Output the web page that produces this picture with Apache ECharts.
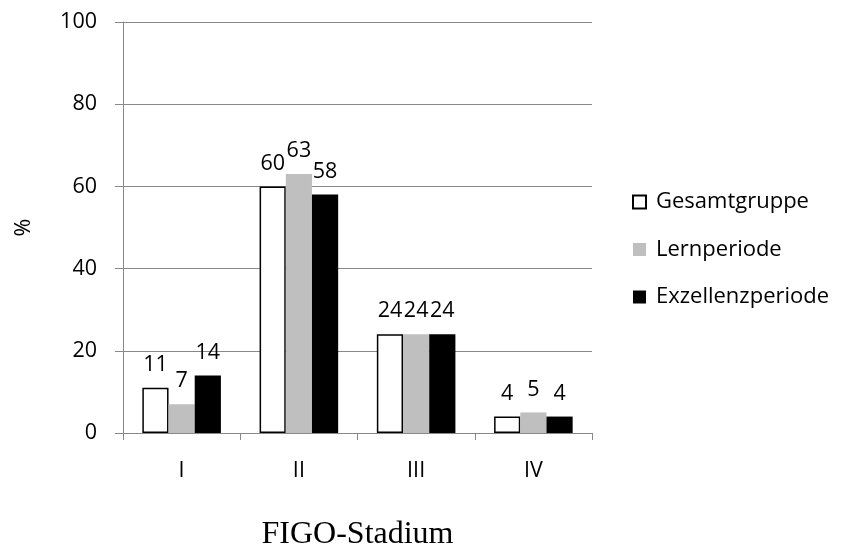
<!DOCTYPE html>
<html><head><meta charset="utf-8">
<script src="https://cdn.jsdelivr.net/npm/echarts@6/dist/echarts.min.js"></script>
<style>html,body{margin:0;padding:0;background:#fff}#c{width:842px;height:548px}</style>
</head><body><div id="c"></div>
<script>
var categories = ['I', 'II', 'III', 'IV'];
var gesamtgruppe = [11, 60, 24, 4];
var lernperiode = [7, 63, 24, 5];
var exzellenzperiode = [14, 58, 24, 4];
var yTicks = [0, 20, 40, 60, 80, 100];

var FONT = '"Open Sans", sans-serif';
var labelStyle = {show: true, position: 'top', distance: 12, fontSize: 21.5, color: '#000', fontFamily: FONT};

var chart = echarts.init(document.getElementById('c'));
chart.setOption({
  animation: false,
  backgroundColor: '#fff',
  grid: {left: 123, right: 250, top: 22, bottom: 115, outerBoundsMode: 'none', containLabel: false},
  legend: {
    orient: 'vertical', left: 632, top: 191, padding: 0, itemWidth: 13, itemHeight: 13, itemGap: 25.5,
    icon: 'rect',
    textStyle: {fontSize: 22, lineHeight: 22, color: '#000', fontFamily: FONT, padding: [0,0,0,5]},
    data: ['Gesamtgruppe', 'Lernperiode', 'Exzellenzperiode']
  },
  xAxis: {
    type: 'category', data: categories,
    name: 'FIGO-Stadium', nameLocation: 'middle', nameGap: 86,
    nameTextStyle: {fontFamily: '"Liberation Serif", serif', fontSize: 32, color: '#000'},
    axisLine: {lineStyle: {color: '#888', width: 1}},
    axisTick: {show: true, length: 7, lineStyle: {color: '#888'}},
    axisLabel: {fontSize: 21.5, color: '#000', fontFamily: FONT, margin: 27}
  },
  yAxis: {
    type: 'value', min: yTicks[0], max: yTicks[yTicks.length - 1], interval: yTicks[1] - yTicks[0],
    name: '%', nameLocation: 'middle', nameGap: 88, nameRotate: 90,
    nameTextStyle: {fontFamily: FONT, fontSize: 21.5, color: '#000'},
    axisLine: {show: true, lineStyle: {color: '#888', width: 1}},
    axisTick: {show: true, length: 8, lineStyle: {color: '#888'}},
    splitLine: {lineStyle: {color: '#888', width: 1}},
    axisLabel: {fontSize: 21.5, color: '#000', fontFamily: FONT, margin: 26}
  },
  series: [
    {name: 'Gesamtgruppe', type: 'bar', data: gesamtgruppe, barGap: '0%', barCategoryGap: '33%',
     itemStyle: {color: '#fff', borderColor: '#000', borderWidth: 1.5}, label: labelStyle},
    {name: 'Lernperiode', type: 'bar', data: lernperiode,
     itemStyle: {color: '#bfbfbf'}, label: labelStyle},
    {name: 'Exzellenzperiode', type: 'bar', data: exzellenzperiode,
     itemStyle: {color: '#000'}, label: labelStyle}
  ]
});
</script></body></html>
